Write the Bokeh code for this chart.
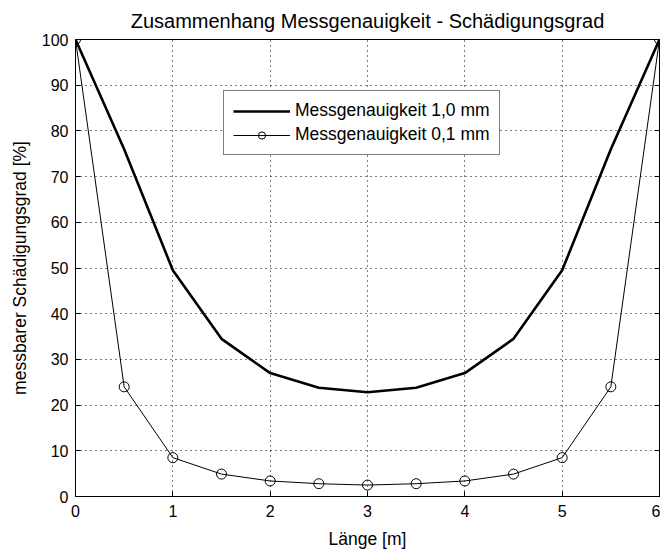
from bokeh.plotting import figure
from bokeh.models import Range1d, LinearAxis, FixedTicker, Legend, LegendItem
from bokeh.embed import file_html
from bokeh.resources import INLINE

# data
x_len = [0, 0.5, 1, 1.5, 2, 2.5, 3, 3.5, 4, 4.5, 5, 5.5, 6]
y_coarse = [100, 76, 49.5, 34.5, 27, 23.8, 22.8, 23.8, 27, 34.5, 49.5, 76, 100]
y_fine = [100, 24, 8.5, 4.9, 3.4, 2.8, 2.5, 2.8, 3.4, 4.9, 8.5, 24, 100]
x_ticks = [0, 1, 2, 3, 4, 5, 6]
y_ticks = [0, 10, 20, 30, 40, 50, 60, 70, 80, 90, 100]
title_text = "Zusammenhang Messgenauigkeit - Schädigungsgrad"
x_label = "Länge [m]"
y_label = "messbarer Schädigungsgrad [%]"
label_coarse = "Messgenauigkeit 1,0 mm"
label_fine = "Messgenauigkeit 0,1 mm"

FONT = "Liberation Sans"

p = figure(width=660, height=551, output_backend="svg", toolbar_location=None,
           x_range=Range1d(0, 6), y_range=Range1d(0, 100),
           min_border_left=75, min_border_right=1, min_border_top=39, min_border_bottom=51)
p.background_fill_color = "white"
p.border_fill_color = "white"
p.outline_line_color = "black"
p.outline_line_width = 1

p.title.text = title_text
p.title.align = "center"
p.title.text_font = FONT
p.title.text_font_size = "20px"
p.title.text_font_style = "normal"
p.title.text_color = "black"
p.title.standoff = 15

for ax in (p.xaxis[0], p.yaxis[0]):
    ax.major_label_text_font = FONT
    ax.major_label_text_font_size = "16px"
    ax.major_label_text_color = "black"
    ax.axis_label_text_font = FONT
    ax.axis_label_text_font_size = "17.5px"
    ax.axis_label_text_font_style = "normal"
    ax.axis_label_text_color = "black"
    ax.major_tick_in = 5
    ax.major_tick_out = 0
    ax.minor_tick_in = 0
    ax.minor_tick_out = 0
    ax.axis_line_color = "black"
    ax.major_tick_line_color = "black"

p.xaxis.ticker = FixedTicker(ticks=x_ticks)
p.yaxis.ticker = FixedTicker(ticks=y_ticks)
p.xaxis.axis_label = x_label
p.yaxis.axis_label = y_label
p.xaxis.major_label_standoff = 8
p.yaxis.major_label_standoff = 7
p.xaxis.axis_label_standoff = 9
p.yaxis.axis_label_standoff = 9

# right axis with inward ticks, no labels
rax = LinearAxis(ticker=FixedTicker(ticks=y_ticks), major_tick_in=5, major_tick_out=0,
                 minor_tick_in=0, minor_tick_out=0,
                 major_label_overrides={t: "" for t in y_ticks},
                 major_label_standoff=0, axis_line_color="black")
p.add_layout(rax, "right")

p.xgrid.ticker = FixedTicker(ticks=x_ticks)
p.ygrid.ticker = FixedTicker(ticks=y_ticks)
for g in (p.xgrid[0], p.ygrid[0]):
    g.grid_line_color = "black"
    g.grid_line_dash = "1 4"
    g.grid_line_width = 1
    g.grid_line_alpha = 1

r1 = p.line(x_len, y_coarse, line_color="black", line_width=2.6)
r2 = p.line(x_len, y_fine, line_color="black", line_width=1)
r3 = p.scatter(x_len, y_fine, size=10, marker="circle", line_color="black",
               fill_alpha=0, line_width=1)

legend = Legend(items=[LegendItem(label=label_coarse, renderers=[r1]),
                       LegendItem(label=label_fine, renderers=[r2, r3])],
                location=(148, 341))
legend.label_text_font = FONT
legend.label_text_font_size = "17.5px"
legend.label_text_color = "black"
legend.border_line_color = "black"
legend.border_line_width = 1
legend.background_fill_color = "white"
legend.background_fill_alpha = 1
legend.glyph_width = 57
legend.glyph_height = 18
legend.label_height = 18
legend.label_standoff = 5
legend.padding = 9
legend.spacing = 3
legend.margin = 0
p.add_layout(legend, "center")

open("out.html", "w").write(file_html(p, INLINE))
